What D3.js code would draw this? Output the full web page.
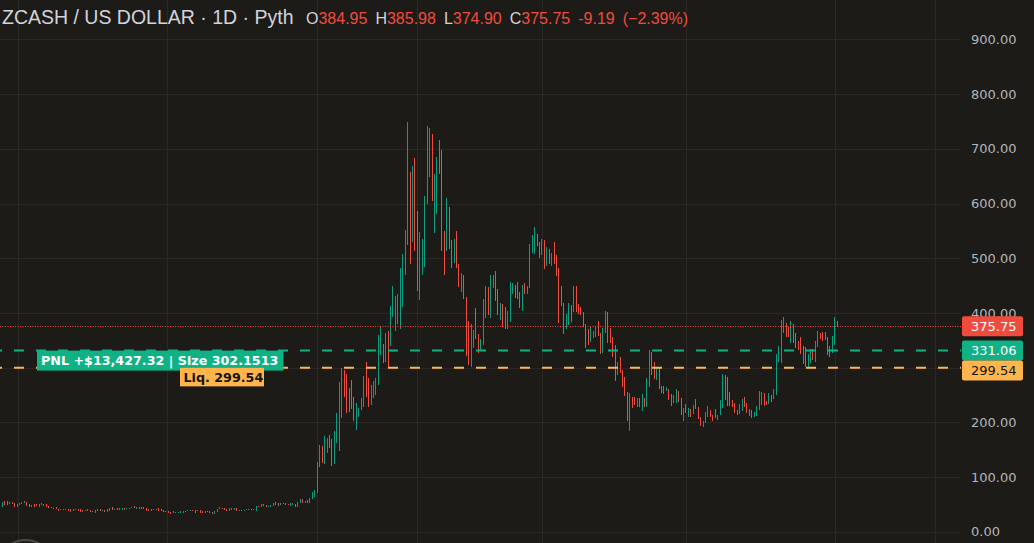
<!DOCTYPE html>
<html lang="en">
<head>
    <meta charset="UTF-8">
    <title>ZCASH / US DOLLAR · 1D</title>
    <script src="https://d3js.org/d3.v7.min.js"></script>
    <style>
        html, body { margin: 0; padding: 0; background: #1c1b17; }
        svg { display: block; }
    </style>
</head>
<body>
<svg id="chart" width="1034" height="543"></svg>
<script>
// Daily candles, oldest first
const opens = [
    46, 56, 55.5, 50, 53.7, 51.9, 46, 49, 51, 52,
    54.3, 50.6, 46, 50.5, 50.5, 46, 49, 50.6, 50.5, 47,
    45.8, 44, 44.5, 41.5, 39.7, 41.5, 39.2, 41.5, 40.9, 38,
    39.7, 41.5, 41.5, 39.7, 37.2, 38.5, 40.3, 38.5, 35.4, 37.8,
    41.5, 37.8, 40.3, 36.6, 38, 45.8, 39.7, 43.3, 39.7, 39.7,
    42.7, 40.9, 41.5, 42.7, 47, 41.5, 45.8, 45.2, 44.6, 44,
    41.5, 37.8, 39.1, 41.5, 43.3, 40.9, 40.3, 38.5, 37.2, 36.6,
    34.8, 34.8, 34.8, 34.2, 34.8, 38.5, 37.8, 37.8, 40.3, 39.7,
    37.2, 39.7, 38.5, 34.8, 38.5, 37.2, 36.6, 33, 36.6, 41.5,
    44, 43.3, 41.5, 38.5, 39.7, 39.7, 44, 40.3, 37.8, 38.5,
    39.7, 40.3, 42.1, 39.1, 37.8, 47, 45.8, 50.6, 48.8, 45.2,
    45.8, 47.6, 54.3, 51.9, 48.8, 53.1, 51.9, 50.6, 47.6, 48.8,
    50.6, 45.8, 52, 59.8, 53.1, 57.3, 53.1, 60, 64,
    73, 124, 150, 131, 150, 170, 158, 128, 170, 210,
    215, 290, 262, 255, 270, 238, 205, 212, 224, 238,
    285, 272, 236, 250, 255, 280, 345, 340, 315, 356,
    342, 405, 372, 388, 380, 420, 478, 535, 650, 540,
    675, 578, 440, 475, 492, 605, 655, 720, 552, 590,
    710, 690, 540, 520, 588, 528, 495, 542, 485, 442,
    465, 425, 380, 306, 340, 402, 356, 333, 348, 396,
    440, 398, 448, 470, 438, 392, 412, 406, 374, 390,
    438, 448, 452, 434, 410, 450, 437, 448, 514, 512,
    541, 526, 509, 530, 490, 513, 490, 526, 502, 478,
    445, 414, 373, 382, 410, 406, 444, 413, 408, 399,
    376, 366, 350, 356, 360, 381, 360, 331, 367, 398,
    368, 352, 336, 289, 315, 293, 280, 252, 208, 244,
    243, 232, 241, 230, 242, 234, 272, 325, 305, 281,
    298, 264, 262, 258, 259, 249, 237, 240, 255, 241,
    206, 230, 213, 221, 217, 239, 226, 208, 193, 201,
    213, 220, 211, 222, 206, 215, 231, 283, 279, 252,
    239, 233, 220, 217, 223, 243, 232, 222, 220, 212,
    214, 226, 235, 250, 237, 235, 248, 244, 256, 313,
    315, 366, 378, 371, 350, 377, 360, 346, 353, 336,
    334, 304, 311, 331, 314, 340, 361, 363, 362, 353,
    336, 330, 348, 384.95
];
const highs = [
    54.3, 56.1, 56, 55, 53.9, 52, 50.8, 53.2, 55, 56.2,
    54.5, 50.8, 48.9, 50.7, 50.7, 50.1, 52.6, 50.8, 50.7, 47.2,
    46, 44.2, 44.6, 41.6, 41.6, 41.6, 41.6, 41.6, 41, 41.6,
    41.6, 41.6, 41.6, 39.8, 39.8, 41, 40.4, 38.6, 40.4, 40.9,
    41.6, 40.4, 40.4, 41, 44.1, 45.9, 42.2, 43.4, 42.8, 44.1,
    42.8, 43.4, 44.1, 45.9, 47.1, 45.9, 45.9, 45.3, 44.7, 44.1,
    41.6, 41, 41.6, 41.6, 43.4, 41, 40.4, 38.6, 37.3, 36.7,
    37.3, 36.7, 36.7, 37.3, 38.6, 38.6, 40.4, 40.4, 40.4, 39.8,
    39.8, 39.8, 38.6, 37.9, 38.6, 37.3, 36.7, 38.6, 41.6, 45.3,
    44.1, 43.4, 41.6, 42.8, 44.1, 43.4, 44.1, 40.4, 40.4, 40.4,
    42.2, 42.2, 42.2, 41.6, 47.1, 47.1, 50.7, 50.7, 48.9, 47.1,
    48.9, 53.2, 54.4, 52, 53.2, 53.2, 52, 50.7, 52, 52,
    50.7, 54.4, 59.9, 59.9, 56.8, 57.4, 62.3, 72.7, 76.3,
    127, 158, 156, 175, 171, 177, 169, 184, 217, 274,
    299, 296, 288, 262, 277, 246, 235, 226, 244, 285,
    310, 281, 268, 276, 281, 360, 374, 343, 363, 367,
    412, 449, 431, 435, 482, 507, 551, 749, 658, 669,
    683, 586, 548, 535, 614, 742, 738, 727, 654, 685,
    716, 698, 549, 610, 593, 533, 535, 549, 489, 473,
    469, 429, 385, 379, 368, 409, 361, 352, 425, 449,
    447, 469, 469, 476, 443, 418, 416, 411, 403, 456,
    454, 451, 456, 438, 451, 454, 449, 526, 542, 557,
    544, 530, 535, 533, 520, 516, 509, 530, 506, 482,
    449, 418, 398, 418, 414, 449, 449, 416, 411, 402,
    380, 370, 374, 367, 374, 385, 363, 372, 403, 402,
    372, 356, 341, 310, 319, 296, 283, 255, 253, 246,
    246, 244, 244, 251, 244, 281, 332, 329, 310, 301,
    302, 266, 266, 265, 261, 252, 250, 261, 257, 244,
    226, 233, 226, 224, 231, 242, 228, 210, 202, 219,
    230, 222, 213, 224, 213, 241, 288, 287, 283, 255,
    241, 235, 222, 233, 242, 246, 235, 224, 222, 219,
    230, 257, 255, 253, 239, 253, 250, 261, 325, 339,
    387, 392, 381, 374, 385, 380, 363, 348, 356, 339,
    338, 325, 334, 334, 348, 366, 363, 365, 365, 356,
    339, 358, 393, 385.98
];
const lows = [
    45.8, 48.8, 48.8, 49.8, 51.2, 45.8, 45.6, 48.7, 50.9, 51.8,
    47.5, 45.8, 45.7, 45.8, 46.4, 45.8, 48.7, 47, 45.8, 44,
    42.7, 41.5, 41.5, 37.8, 39.6, 39.7, 39.1, 37.8, 36.6, 37.8,
    39.6, 38.5, 36.6, 36.6, 37.1, 38.4, 36.6, 36, 34.8, 37.7,
    38.5, 37.7, 36.6, 36.5, 37.8, 39.7, 39.6, 39.7, 39.6, 39.6,
    39.7, 40.8, 41.4, 42.6, 43.3, 41.4, 41.5, 41.5, 40.9, 38.5,
    38.5, 37.7, 39, 39.1, 38.5, 37.8, 36.6, 36, 34.2, 33,
    34.7, 34.7, 34.7, 34.1, 34.7, 36.6, 37.7, 37.7, 37.2, 34.8,
    37.1, 34.8, 34.8, 34.7, 35.4, 34.8, 33, 32.9, 36.5, 41.4,
    41.5, 39.7, 37.8, 38.4, 39.6, 39.6, 38.5, 37.8, 37.7, 38.4,
    39.6, 40.2, 39.7, 39, 37.7, 45.2, 45.7, 46.4, 45.2, 45.1,
    45.7, 47.5, 48.8, 47.6, 48.7, 50, 48.8, 48.2, 47.5, 48.7,
    45.8, 45.7, 51.8, 53.1, 53, 53.1, 53, 59.8, 63.8,
    71, 118, 125, 124, 143, 153, 120, 124, 162, 147,
    208, 246, 217, 219, 224, 202, 186, 210, 222, 228,
    246, 228, 232, 245, 250, 268, 323, 308, 310, 302,
    339, 393, 367, 379, 370, 411, 469, 524, 489, 530,
    514, 440, 424, 469, 484, 599, 649, 604, 546, 581,
    654, 513, 469, 513, 516, 482, 491, 482, 447, 438,
    425, 321, 304, 301, 335, 352, 326, 330, 341, 390,
    396, 390, 445, 421, 396, 387, 374, 370, 370, 383,
    434, 427, 425, 409, 404, 434, 434, 445, 509, 507,
    522, 500, 506, 481, 486, 490, 486, 490, 467, 381,
    413, 361, 370, 378, 383, 402, 402, 398, 396, 374,
    336, 341, 347, 354, 356, 358, 325, 327, 363, 345,
    345, 319, 275, 286, 290, 265, 248, 202, 184, 226,
    232, 228, 228, 220, 228, 228, 265, 286, 280, 277,
    260, 253, 251, 257, 241, 230, 235, 235, 237, 213,
    202, 217, 210, 210, 215, 224, 206, 193, 191, 199,
    210, 210, 202, 207, 204, 213, 226, 241, 230, 230,
    228, 217, 213, 215, 220, 228, 217, 211, 207, 210,
    211, 222, 231, 230, 231, 233, 237, 242, 250, 310,
    308, 363, 356, 356, 345, 345, 335, 332, 325, 306,
    301, 301, 308, 314, 310, 337, 352, 349, 350, 323,
    319, 327, 341, 374.90
];
const closes = [
    54, 49, 49.5, 54.5, 51.5, 46, 50.5, 53, 54.8, 56,
    47.8, 46, 48.8, 46, 46.6, 50, 52.5, 47.2, 46, 44.2,
    43, 41.7, 41.7, 38, 41.4, 39.9, 41.4, 38, 36.8, 41.4,
    41.4, 38.7, 36.8, 36.8, 39.6, 40.8, 36.8, 36.2, 40.2, 40.8,
    38.7, 40.2, 36.8, 40.8, 44, 39.9, 42, 39.9, 42.6, 44,
    39.9, 43.3, 44, 45.8, 43.5, 45.8, 41.7, 41.7, 41.1, 38.7,
    38.7, 40.8, 41.4, 39.3, 38.7, 38, 36.8, 36.2, 34.4, 33.2,
    37.1, 36.5, 36.5, 37.1, 38.4, 36.8, 40.2, 40.2, 37.4, 35,
    39.6, 35, 35, 37.7, 35.6, 35, 33.2, 38.4, 41.4, 45.1,
    41.7, 39.9, 38, 42.6, 44, 43.3, 38.7, 38, 40.2, 40.2,
    42, 42, 39.9, 41.4, 47, 45.4, 50.5, 46.6, 45.4, 46.9,
    48.7, 53, 49, 47.8, 53, 50.2, 49, 48.4, 51.8, 51.8,
    46, 54.2, 59.7, 53.3, 56.6, 53.3, 62.1, 72.5, 76.1,
    124, 150, 131, 168, 165, 158, 128, 178, 210, 268,
    290, 252, 228, 230, 232, 210, 228, 224, 240, 280,
    255, 236, 262, 272, 276, 352, 368, 315, 356, 318,
    405, 440, 425, 428, 470, 498, 540, 730, 500, 660,
    525, 450, 540, 528, 605, 735, 730, 612, 645, 678,
    660, 520, 475, 602, 522, 488, 530, 488, 452, 468,
    430, 330, 310, 372, 362, 358, 332, 349, 418, 442,
    402, 462, 466, 426, 400, 414, 378, 375, 398, 450,
    450, 430, 430, 412, 446, 438, 446, 520, 536, 550,
    526, 504, 531, 485, 516, 494, 506, 494, 472, 388,
    417, 366, 394, 414, 387, 444, 407, 401, 399, 378,
    340, 345, 370, 365, 371, 362, 330, 368, 398, 350,
    349, 323, 281, 306, 294, 270, 252, 208, 246, 230,
    236, 240, 232, 246, 232, 275, 322, 292, 285, 297,
    265, 256, 254, 263, 244, 233, 247, 257, 240, 216,
    222, 220, 223, 212, 228, 227, 209, 196, 200, 216,
    227, 212, 204, 209, 211, 237, 282, 246, 234, 233,
    230, 219, 215, 230, 239, 231, 220, 213, 209, 217,
    227, 252, 251, 233, 233, 250, 240, 258, 318, 335,
    380, 388, 360, 359, 380, 349, 338, 334, 328, 309,
    305, 322, 331, 317, 344, 362, 354, 352, 353, 326,
    322, 354, 384.95, 375.75
];

// price axis and time grid
const priceTicks = [0, 100, 200, 300, 400, 500, 600, 700, 800, 900];
const timeGridAt = [6.4, 67.4, 129, 170, 221, 280, 341, 382]; // candle index positions

// position / order lines
const lastPrice = 375.75;
const entryPrice = 331.06;
const liqPrice = 299.54;
const pnlText = "PNL +$13,427.32 | Size 302.1513";
const liqText = "Liq. 299.54";

const titleText = "ZCASH / US DOLLAR · 1D · Pyth";
const legendParts = [
    { k: "O", v: "384.95" },
    { k: "H", v: "385.98" },
    { k: "L", v: "374.90" },
    { k: "C", v: "375.75" },
    { k: "", v: "-9.19" },
    { k: "", v: "(\u22122.39%)" }
];

const width = 1034, height = 543;
const plotRight = 961;
const upColor = "#0b9e80";
const downColor = "#f04c3e";
const greenLabel = "#10b285";
const redLabel = "#f04c3e";
const orangeLabel = "#ffb54c";
const gridColor = "#2a2925";
const textColor = "#d1d4dc";
const axisText = "#b2b5bb";

const svg = d3.select("#chart");
svg.append("rect").attr("width", width).attr("height", height).attr("fill", "#1c1b17");

const x = d3.scaleLinear().domain([0, opens.length - 1]).range([2.4, 837.3]);
const y = d3.scaleLinear().domain([0, 900]).range([531.7, 39.4]);

// grid
const grid = svg.append("g").attr("shape-rendering", "crispEdges");
grid.selectAll(".hg").data(priceTicks).enter().append("line")
    .attr("x1", 0).attr("x2", plotRight)
    .attr("y1", d => Math.round(y(d)) + 0.5).attr("y2", d => Math.round(y(d)) + 0.5)
    .attr("stroke", gridColor);
grid.selectAll(".vg").data(timeGridAt).enter().append("line")
    .attr("x1", d => Math.round(x(d)) + 0.5).attr("x2", d => Math.round(x(d)) + 0.5)
    .attr("y1", 0).attr("y2", height)
    .attr("stroke", gridColor);

// candles
const candles = opens.map((o, i) => ({ i, o, h: highs[i], l: lows[i], c: closes[i] }));
const cg = svg.append("g").attr("shape-rendering", "crispEdges");
const candle = cg.selectAll("g").data(candles).enter().append("g")
    .attr("fill", d => d.c >= d.o ? upColor : downColor);
candle.append("rect") // wick
    .attr("x", d => Math.floor(x(d.i)))
    .attr("width", 1)
    .attr("y", d => y(d.h))
    .attr("height", d => Math.max(1, y(d.l) - y(d.h)));
candle.append("rect") // body
    .attr("x", d => Math.floor(x(d.i)))
    .attr("width", 1)
    .attr("y", d => y(Math.max(d.o, d.c)))
    .attr("height", d => Math.max(1, Math.abs(y(d.o) - y(d.c))));

// price lines
svg.append("line")
    .attr("x1", 0).attr("x2", plotRight)
    .attr("y1", Math.round(y(lastPrice)) + 0.5).attr("y2", Math.round(y(lastPrice)) + 0.5)
    .attr("stroke", downColor).attr("stroke-width", 1)
    .attr("stroke-dasharray", "1,1.5");
svg.append("line")
    .attr("x1", 0).attr("x2", plotRight)
    .attr("y1", y(entryPrice)).attr("y2", y(entryPrice))
    .attr("stroke", greenLabel).attr("stroke-width", 2)
    .attr("stroke-dasharray", "10,12").attr("stroke-dashoffset", 8);
svg.append("line")
    .attr("x1", 0).attr("x2", plotRight)
    .attr("y1", y(liqPrice)).attr("y2", y(liqPrice))
    .attr("stroke", orangeLabel).attr("stroke-width", 2)
    .attr("stroke-dasharray", "10,12").attr("stroke-dashoffset", 8);

// axis price labels, pushed down when they would overlap
const boxH = 20;
const axisLabels = [
    { v: lastPrice, bg: redLabel, fg: "#ffffff" },
    { v: entryPrice, bg: greenLabel, fg: "#ffffff" },
    { v: liqPrice, bg: orangeLabel, fg: "#131313" }
];
let prevBottom = -Infinity;
axisLabels.forEach(d => {
    d.top = Math.max(y(d.v) - boxH / 2, prevBottom);
    prevBottom = d.top + boxH;
});

// axis tick labels (the ones hidden under a price label are left out)
const visibleTicks = priceTicks.filter(t =>
    !axisLabels.some(d => y(t) > d.top && y(t) < d.top + boxH));
svg.append("g").selectAll("text").data(visibleTicks).enter().append("text")
    .attr("x", 971).attr("y", d => y(d)).attr("dy", "0.36em")
    .attr("fill", axisText)
    .style("font", "13px 'DejaVu Sans', sans-serif")
    .text(d => d.toFixed(2));

const al = svg.append("g").selectAll("g").data(axisLabels).enter().append("g");
al.append("rect")
    .attr("x", 962).attr("y", d => d.top).attr("width", 61).attr("height", boxH)
    .attr("rx", 2).attr("fill", d => d.bg);
al.append("text")
    .attr("x", 971).attr("y", d => d.top + boxH / 2).attr("dy", "0.36em")
    .attr("fill", d => d.fg)
    .style("font", "13px 'DejaVu Sans', sans-serif")
    .text(d => d.v.toFixed(2));

// position label
const pnl = svg.append("g");
pnl.append("rect")
    .attr("x", 37).attr("y", y(entryPrice)).attr("width", 246.5).attr("height", 20)
    .attr("fill", greenLabel);
pnl.append("text")
    .attr("x", 41).attr("y", y(entryPrice) + 10).attr("dy", "0.36em")
    .attr("fill", "#ffffff")
    .style("font", "bold 12.7px 'DejaVu Sans', sans-serif")
    .text(pnlText);

const liq = svg.append("g");
liq.append("rect")
    .attr("x", 180).attr("y", y(liqPrice)).attr("width", 84).attr("height", 18.5)
    .attr("fill", orangeLabel);
liq.append("text")
    .attr("x", 183.5).attr("y", y(liqPrice) + 9.5).attr("dy", "0.36em")
    .attr("fill", "#131313")
    .style("font", "bold 12.7px 'DejaVu Sans', sans-serif")
    .text(liqText);

// legend
svg.append("text")
    .attr("x", 2).attr("y", 24)
    .attr("fill", textColor)
    .style("font", "19.5px 'Liberation Sans', Arial, sans-serif")
    .text(titleText);

let lx = 306;
legendParts.forEach(p => {
    const t = svg.append("text")
        .attr("x", lx).attr("y", 23.5)
        .style("font", "16px 'Liberation Sans', Arial, sans-serif");
    if (p.k) t.append("tspan").attr("fill", textColor).text(p.k);
    t.append("tspan").attr("fill", downColor).text(p.v);
    lx += t.node().getComputedTextLength() + 8;
});

// corner button outline at the bottom
svg.append("circle")
    .attr("cx", 25.5).attr("cy", 567).attr("r", 27)
    .attr("fill", "none").attr("stroke", "#4a4a48").attr("stroke-width", 2);
</script>
</body>
</html>
